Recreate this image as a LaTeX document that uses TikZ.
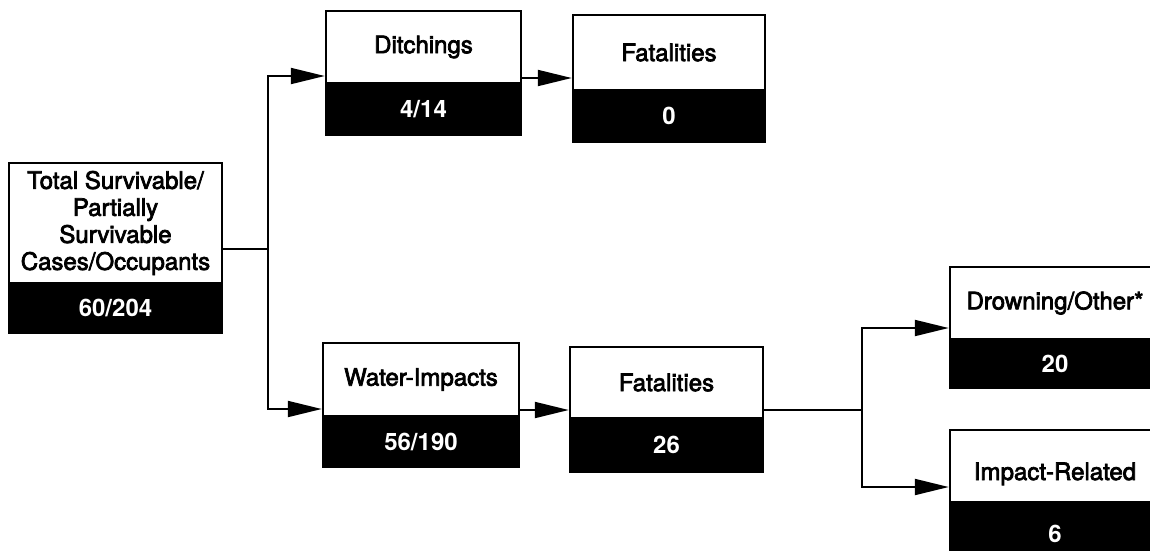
\documentclass[tikz,border=0pt]{standalone}
\usepackage{fontspec}
\setmainfont{TeX Gyre Heros}
\newfontfamily\lblfont{TeX Gyre Heros}[FakeBold=3]
\usetikzlibrary{arrows.meta}
\tikzset{
  topbox/.style={draw=black, line width=2.5pt, fill=white, inner sep=0pt, align=center,
    font=\fontsize{24}{27}\lblfont},
  numbox/.style={draw=black, line width=2.5pt, fill=black, text=white, inner sep=0pt,
    font=\fontsize{24}{27}\selectfont\bfseries},
  link/.style={line width=2pt, draw=black},
  arr/.style={link, -{Triangle[length=34pt,width=16pt]}}
}
\begin{document}
\begin{tikzpicture}[x=1pt,y=-1pt]
\useasboundingbox (0,0) rectangle (1150,550);
\clip (0,0) rectangle (1150,550);
% Total
\node[topbox, minimum width=213, minimum height=120] (tot) at (115.5,223) {Total Survivable/\\Partially\\Survivable\\Cases/Occupants};
\node[numbox, minimum width=213, minimum height=50] (totn) at (115.5,308) {60/204};
% Ditchings
\node[topbox, minimum width=195, minimum height=72] (dit) at (423.5,47) {Ditchings};
\node[numbox, minimum width=195, minimum height=52] (ditn) at (423.5,109) {4/14};
% Fatalities (top)
\node[topbox, minimum width=192, minimum height=75] (fat1) at (669,52.5) {Fatalities};
\node[numbox, minimum width=192, minimum height=52] (fat1n) at (669,116) {0};
% Water-Impacts
\node[topbox, minimum width=196, minimum height=73] (wat) at (421,379.5) {Water-Impacts};
\node[numbox, minimum width=196, minimum height=51] (watn) at (421,441.5) {56/190};
% Fatalities (bottom)
\node[topbox, minimum width=193, minimum height=71] (fat2) at (666.5,382.5) {Fatalities};
\node[numbox, minimum width=193, minimum height=54] (fat2n) at (666.5,445) {26};
% Drowning/Other*
\node[topbox, minimum width=210, minimum height=72] (drw) at (1055,303) {Drowning/Other*};
\node[numbox, minimum width=210, minimum height=49] (drwn) at (1055,363.5) {20};
% Impact-Related
\node[topbox, minimum width=210, minimum height=72] (imp) at (1055,466) {\raisebox{-8pt}[17pt][5pt]{Impact-Related}};
\node[numbox, minimum width=210, minimum height=63] (impn) at (1055,533.5) {6};
% junctions
\coordinate (j1) at (268,249);
\coordinate (j2) at (862,410);
% connectors
\draw[link] (tot.east |- 0,249) -- (j1);
\draw[arr] (j1) |- (dit.west |- 0,76);
\draw[arr] (j1) |- (wat.west |- 0,409);
\draw[arr] (dit.east |- 0,78) -- (fat1.west |- 0,78);
\draw[arr] (wat.east |- 0,410) -- (fat2.west |- 0,410);
\draw[link] (fat2.east |- 0,410) -- (j2);
\draw[arr] (j2) |- (drw.west |- 0,328);
\draw[arr] (j2) |- (imp.west |- 0,487);
\end{tikzpicture}
\end{document}
